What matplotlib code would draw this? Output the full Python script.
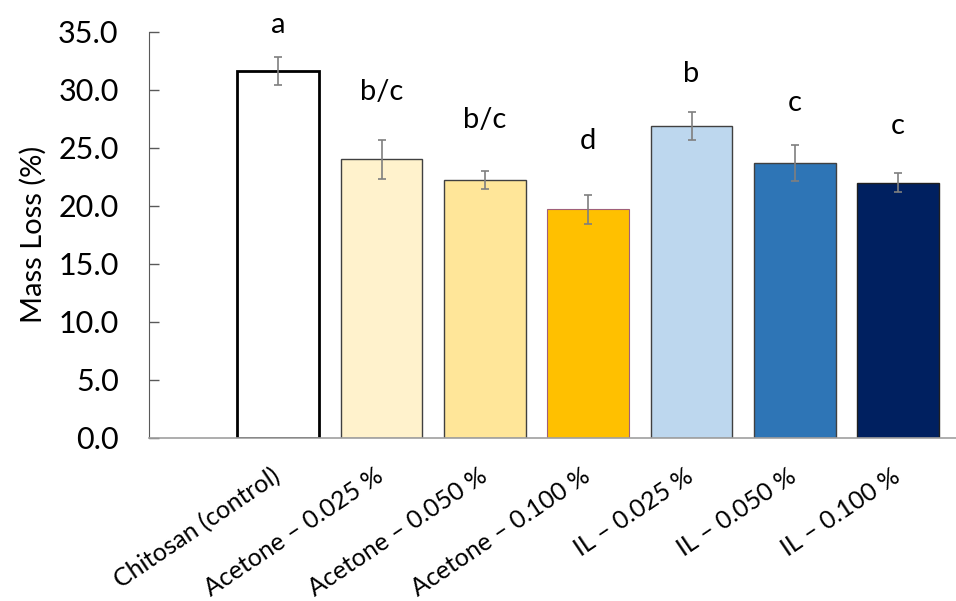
import numpy as np
import matplotlib
matplotlib.use('Agg')
import matplotlib.pyplot as plt
from matplotlib.transforms import ScaledTranslation

plt.rcParams['font.family'] = ['Lato', 'DejaVu Sans']

# Données
categories = ['Chitosan (control)', 'Acetone – 0.025 %', 'Acetone – 0.050 %',
              'Acetone – 0.100 %', 'IL – 0.025 %', 'IL – 0.050 %', 'IL – 0.100 %']
mass_loss = [31.6, 24.0, 22.2, 19.7, 26.85, 23.7, 22.0]
errors = [1.2, 1.7, 0.8, 1.25, 1.2, 1.55, 0.85]
letters = ['a', 'b/c', 'b/c', 'd', 'b', 'c', 'c']
letter_y = [35.6, 29.8, 27.4, 25.6, 31.4, 28.9, 26.9]
yticks = [0, 5, 10, 15, 20, 25, 30, 35]

colors = ['#FFFFFF', '#FFF2CC', '#FFE699', '#FFC000', '#BDD7EE', '#2E75B6', '#002060']
edges = ['#000000', '#404040', '#404040', '#A0607A', '#404040', '#404040', '#202020']
edge_w = [2.0, 1.0, 1.0, 0.8, 1.0, 1.0, 1.0]

fig = plt.figure(figsize=(9.56, 6.01), dpi=100)
ax = fig.add_axes([0.156, 0.272, 0.844, 0.675])

x = np.arange(len(categories))
ax.bar(x, mass_loss, width=0.79, color=colors, edgecolor=edges, linewidth=edge_w, zorder=2)
ax.errorbar(x, mass_loss, yerr=errors, fmt='none', ecolor='#7F7F7F',
            elinewidth=1.2, capsize=3, capthick=1.2, zorder=3)

# Lettres de significativité
for xi, lab, yl in zip(x, letters, letter_y):
    ax.text(xi, yl, lab, ha='center', va='center', fontsize=21, clip_on=False)

ax.set_xlim(-1.25, 6.56)
ax.set_ylim(0, 35)
ax.set_yticks(yticks)
ax.set_yticklabels([f'{v:.1f}' for v in yticks], fontsize=22)
ax.tick_params(axis='y', direction='in', length=7, width=1, color='#595959', pad=22)
ax.set_xticks(x)
ax.set_xticklabels(categories, rotation=34, ha='right', rotation_mode='anchor',
                   fontsize=18)
ax.tick_params(axis='x', length=0, pad=14)
# décalage des étiquettes vers le bas à gauche
offset = ScaledTranslation(-0.07, -0.07, fig.dpi_scale_trans)
for lab in ax.get_xticklabels():
    lab.set_transform(lab.get_transform() + offset)
ax.set_ylabel('Mass Loss (%)', fontsize=21, labelpad=8)

for s in ['top', 'right']:
    ax.spines[s].set_visible(False)
ax.spines['left'].set_color('#595959')
ax.spines['bottom'].set_color('#A0A0A0')
ax.spines['bottom'].set_linewidth(1.2)

fig.savefig('out.png', dpi=100)
